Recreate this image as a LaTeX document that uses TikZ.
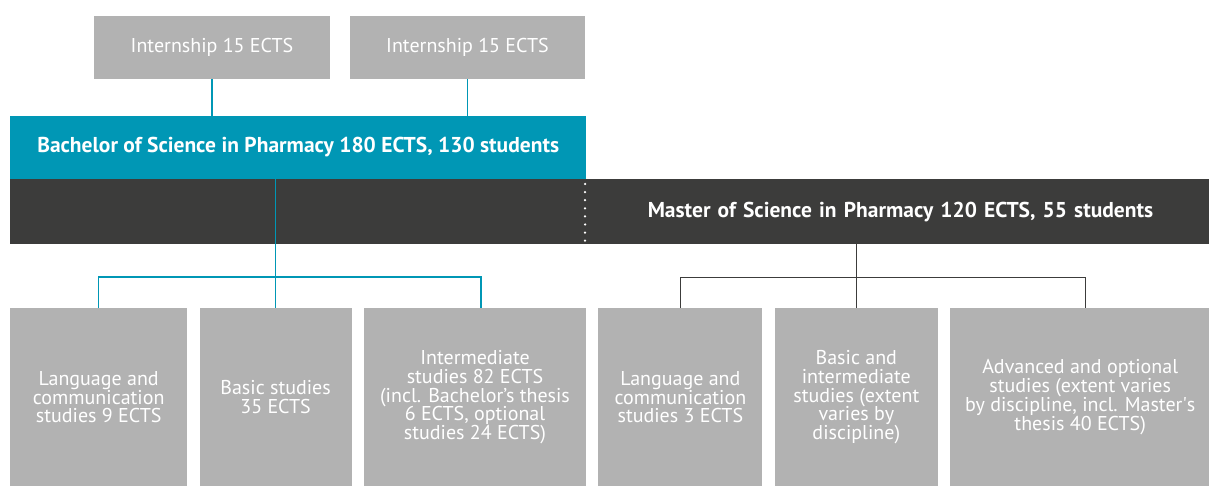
\documentclass[tikz,border=0pt]{standalone}
\usepackage{fontspec}
\setmainfont{PT Sans}
\usetikzlibrary{positioning}
\definecolor{bscteal}{HTML}{0097B5}
\definecolor{mscdark}{HTML}{3C3C3B}
\definecolor{boxgrey}{HTML}{B2B2B2}

\begin{document}
\begin{tikzpicture}[x=1pt, y=-1pt, node distance=12pt,
    greybox/.style={fill=boxgrey, text=white, font=\fontsize{20}{18.8}\selectfont, align=center, inner sep=0pt},
    studybox/.style={greybox, minimum height=178pt, anchor=north west},
    bar/.style={text=white, font=\fontsize{21.5}{22}\selectfont\bfseries, inner sep=0pt},
    tline/.style={bscteal, line width=1.4pt},
    mline/.style={mscdark, line width=1pt}]
  \useasboundingbox (0,0) rectangle (1209,486);

  \node[greybox, minimum width=236pt, minimum height=63pt] (int1) at (212,47.5) {Internship 15 ECTS};
  \node[greybox, minimum width=235pt, minimum height=63pt] (int2) at (467.5,47.5) {Internship 15 ECTS};

  \node[bar, fill=mscdark, minimum width=1199pt, minimum height=65pt, text width=1087pt, align=right, anchor=north west] (msc) at (10,179) {Master of Science in Pharmacy 120 ECTS, 55 students};
  \node[bar, fill=bscteal, minimum width=576pt, minimum height=63pt, anchor=south west] (bsc) at (msc.north west) {Bachelor of Science in Pharmacy 180 ECTS, 130 students};
  \draw[white, line width=2.5pt, line cap=round, dash pattern=on 0pt off 8.1pt] (585,184) -- (585,241);

  % bachelor studies
  \node[studybox, minimum width=177pt] (b1) at (10,308) {Language and\\communication\\studies 9 ECTS};
  \node[studybox, minimum width=152pt, right=of b1] (b2) {Basic studies\\35 ECTS};
  \node[studybox, minimum width=222pt, right=of b2] (b3) {Intermediate\\studies 82 ECTS\\(incl. Bachelor's thesis\\6 ECTS, optional\\studies 24 ECTS)};
  % master studies
  \node[studybox, minimum width=164pt, right=of b3] (m1) {Language and\\communication\\studies 3 ECTS};
  \node[studybox, minimum width=163pt, right=of m1] (m2) {Basic and\\intermediate\\studies (extent\\varies by\\discipline)};
  \node[studybox, minimum width=260pt, right=of m2] (m3) {Advanced and optional\\studies (extent varies\\by discipline, incl. Master\textquotesingle s\\thesis 40 ECTS)};

  \draw[tline] (int1.south) -- (int1.south |- bsc.north);
  \draw[tline] (int2.south) -- (int2.south |- bsc.north);
  \draw[tline] (b2.north |- bsc.south) -- (b2.north);
  \draw[tline] (b1.north) -- ++(0,-31) -| ([xshift=6pt]b3.north);
  \draw[mline] (m2.north |- msc.south) -- (m2.north);
  \draw[mline] (m1.north) -- ++(0,-31) -| ([xshift=5pt]m3.north);
\end{tikzpicture}
\end{document}
